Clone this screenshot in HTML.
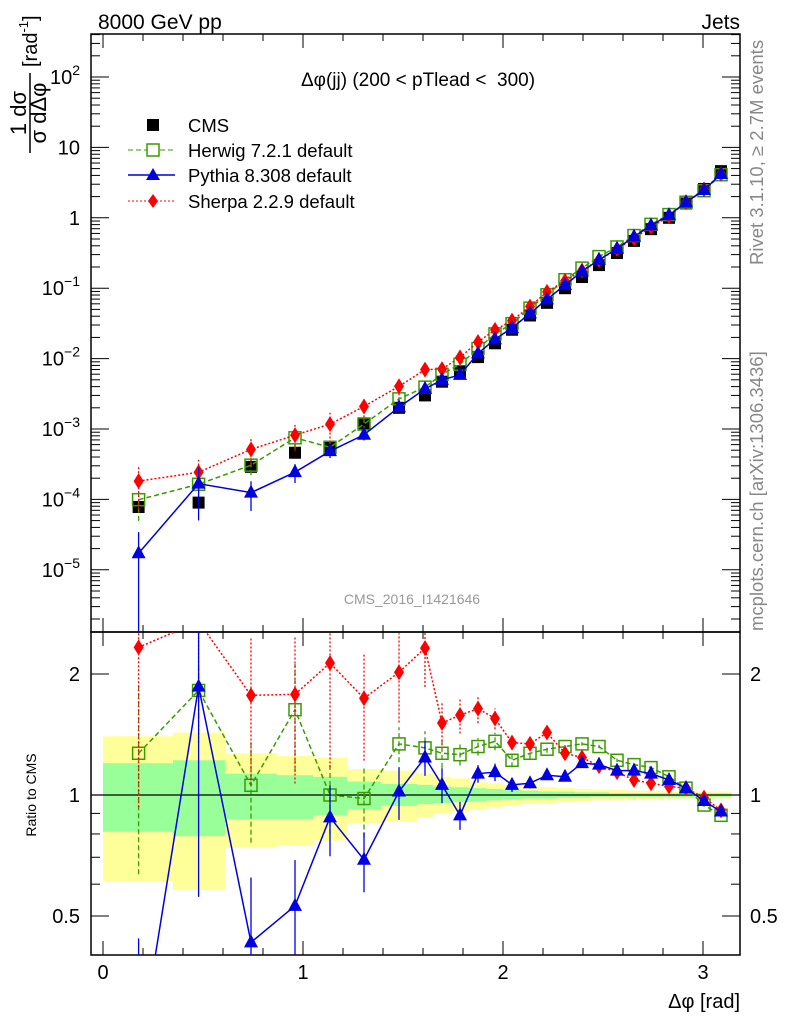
<!DOCTYPE html>
<html><head><meta charset="utf-8"><style>
html,body{margin:0;padding:0;background:#fff;width:786px;height:1024px;overflow:hidden}
svg{font-family:"Liberation Sans",sans-serif;display:block}
</style></head><body>
<svg id="c" width="786" height="1024" xmlns="http://www.w3.org/2000/svg">
<text x="98" y="29" font-size="21">8000 GeV pp</text>
<text x="740" y="29" font-size="21" text-anchor="end">Jets</text>
<text transform="translate(763,265) rotate(-90)" font-size="18.5" fill="#888">Rivet 3.1.10, ≥ 2.7M events</text>
<text transform="translate(763,631) rotate(-90)" font-size="18.5" fill="#888">mcplots.cern.ch [arXiv:1306.3436]</text>
<text x="418" y="86" font-size="19" text-anchor="middle" xml:space="preserve">Δφ(jj) (200 &lt; pTlead &lt;  300)</text>
<text x="412" y="604" font-size="14" fill="#999" text-anchor="middle">CMS_2016_I1421646</text>
<g transform="translate(30,113) rotate(-90)">
<text x="0" y="-4" font-size="22" text-anchor="middle">1 dσ</text>
<line x1="-40" y1="0" x2="40" y2="0" stroke="#000" stroke-width="1.5"/>
<text x="0" y="16" font-size="22" text-anchor="middle">σ dΔφ</text>
<text x="46" y="7" font-size="20">[rad<tspan font-size="13" dy="-9">-1</tspan><tspan dy="9">]</tspan></text>
</g>
<text transform="translate(36,795) rotate(-90)" font-size="14" text-anchor="middle">Ratio to CMS</text>
<text x="740" y="1008" font-size="20" text-anchor="end">Δφ [rad]</text>
<g id="legend" font-size="18.5">
<rect x="147" y="119" width="12" height="12" fill="#000"/>
<text x="188" y="132">CMS</text>
<line x1="128" y1="150" x2="175" y2="150" stroke="#3a9a00" stroke-dasharray="5,3"/>
<rect x="147" y="144" width="12" height="12" fill="#fff" stroke="#3a9a00" stroke-width="1.5"/>
<text x="188" y="157">Herwig 7.2.1 default</text>
<line x1="128" y1="175" x2="175" y2="175" stroke="#0000e0" stroke-width="1.5"/>
<polygon points="153,168 160,180 146,180" fill="#0000e0"/>
<text x="188" y="182">Pythia 8.308 default</text>
<line x1="128" y1="201" x2="175" y2="201" stroke="red" stroke-dasharray="2,2"/>
<polygon points="153,194 158,201 153,208 148,201" fill="red"/>
<text x="188" y="208">Sherpa 2.2.9 default</text>
</g>
</svg>
<script>
const xCenters=[0.178,0.478,0.74,0.96,1.135,1.305,1.48,1.61,1.695,1.785,1.875,1.96,2.045,2.135,2.22,2.31,2.395,2.48,2.57,2.655,2.74,2.83,2.915,3.005,3.09];
const binEdges=[0,0.35,0.61,0.87,1.05,1.22,1.39,1.57,1.65,1.74,1.83,1.92,2.0,2.09,2.18,2.27,2.36,2.44,2.53,2.62,2.71,2.79,2.88,2.97,3.05,3.14];
const cmsValues=[7.8e-5,9e-5,2.9e-4,4.6e-4,5.5e-4,1.2e-3,2.0e-3,3.0e-3,4.7e-3,6.6e-3,0.0105,0.0165,0.0257,0.041,0.062,0.1,0.144,0.213,0.316,0.47,0.69,1.0,1.6,2.57,4.6];
const herwigRatio=[1.27,1.82,1.057,1.63,1.0,0.98,1.34,1.31,1.27,1.26,1.32,1.36,1.22,1.27,1.30,1.32,1.34,1.32,1.22,1.19,1.17,1.11,1.04,0.944,0.89];
const herwigErr=[0.5,0.15,0.28,0.3,0.2,0.2,0.1,0.1,0.08,0.06,0.05,0.05,0.04,0.03,0.02,0.02,0.01,0.01,0.01,0.01,0.01,0.01,0.01,0.01,0.01];
const pythiaRatio=[0.22,1.86,0.43,0.53,0.88,0.69,1.02,1.24,1.06,0.89,1.13,1.14,1.06,1.07,1.12,1.11,1.20,1.19,1.15,1.15,1.13,1.09,1.04,0.966,0.91];
const pythiaErr=[1.0,0.7,0.45,0.3,0.2,0.17,0.15,0.1,0.1,0.08,0.05,0.05,0.04,0.03,0.02,0.02,0.01,0.01,0.01,0.01,0.01,0.01,0.01,0.01,0.01];
const sherpaRatio=[2.33,2.7,1.77,1.78,2.13,1.74,2.02,2.32,1.51,1.58,1.64,1.55,1.35,1.34,1.43,1.27,1.24,1.18,1.14,1.09,1.07,1.05,1.04,0.985,0.916];
const sherpaErr=[0.6,0.5,0.4,0.4,0.45,0.3,0.25,0.2,0.12,0.1,0.08,0.06,0.04,0.04,0.03,0.02,0.02,0.01,0.01,0.01,0.01,0.01,0.01,0.01,0.01];
const bandYellowUp=[1.40,1.43,1.27,1.25,1.24,1.16,1.15,1.13,1.11,1.10,1.08,1.07,1.06,1.05,1.045,1.04,1.035,1.03,1.03,1.025,1.025,1.02,1.02,1.02,1.02];
const bandYellowDn=[0.61,0.58,0.74,0.75,0.77,0.85,0.86,0.88,0.90,0.91,0.92,0.93,0.94,0.95,0.955,0.96,0.965,0.97,0.97,0.975,0.975,0.98,0.98,0.98,0.98];
const bandGreenUp=[1.20,1.22,1.13,1.12,1.11,1.08,1.065,1.06,1.05,1.045,1.04,1.035,1.03,1.025,1.02,1.02,1.015,1.015,1.01,1.01,1.01,1.01,1.01,1.01,1.01];
const bandGreenDn=[0.81,0.79,0.87,0.87,0.89,0.92,0.94,0.95,0.955,0.96,0.965,0.97,0.975,0.98,0.98,0.985,0.985,0.99,0.99,0.99,0.99,0.99,0.99,0.99,0.99];
const yTickExps=[2,1,0,-1,-2,-3,-4,-5];
const xTickLabels=["0","1","2","3"];
const rTickLabels=["0.5","1","2"];

const NS="http://www.w3.org/2000/svg",svg=document.getElementById('c');
const L=91,R=740,T=34,M=632,B=955;
const X=v=>103+200*v;
const Y=v=>77-70.4*(Math.log10(v)-2);
const YR=r=>795-121*Math.log2(r);
function mk(t,a,p){const e=document.createElementNS(NS,t);for(const k in a)e.setAttribute(k,a[k]);(p||svg).appendChild(e);return e;}
const clipM=mk('clipPath',{id:'cm'});mk('rect',{x:L,y:T,width:R-L,height:M-T},clipM);
const clipR=mk('clipPath',{id:'cr'});mk('rect',{x:L,y:M,width:R-L,height:B-M},clipR);
const gb=mk('g',{'clip-path':'url(#cr)'});


for(let i=0;i<xCenters.length;i++){
 const x0=X(binEdges[i]),x1=X(binEdges[i+1]);
 const y=mk('rect',{x:x0,y:YR(bandYellowUp[i]),width:x1-x0+0.5,height:YR(bandYellowDn[i])-YR(bandYellowUp[i]),fill:'#ffff99'},gb);
 
 
 const g=mk('rect',{x:x0,y:YR(bandGreenUp[i]),width:x1-x0+0.5,height:YR(bandGreenDn[i])-YR(bandGreenUp[i]),fill:'#99ff99'},gb);
 
 
}
const one=mk('line',{x1:L,x2:R,y1:YR(1),y2:YR(1),stroke:'#000','stroke-width':1.2});


function frame(y0,y1,name){const f=mk('rect',{x:L,y:y0,width:R-L,height:y1-y0,fill:'none',stroke:'#000','stroke-width':1.5});
 
 
 for(let v=0;v<=3.1;v+=0.2){const maj=Math.abs(v-Math.round(v))<1e-6,l=maj?14:7;
  mk('line',{x1:X(v),x2:X(v),y1:y1,y2:y1-l,stroke:'#000'});mk('line',{x1:X(v),x2:X(v),y1:y0,y2:y0+l,stroke:'#000'});}}
frame(T,M,'main-plot-frame');frame(M,B,'ratio-plot-frame');
for(let d=-6;d<=2;d++)for(let m=1;m<10;m++){const v=m*Math.pow(10,d),y=Y(v);if(y<T||y>M)continue;const l=m==1?18:9;
 mk('line',{x1:L,x2:L+l,y1:y,y2:y,stroke:'#000'});mk('line',{x1:R,x2:R-l,y1:y,y2:y,stroke:'#000'});}
yTickExps.forEach(e=>{const t=mk('text',{x:80,y:Y(Math.pow(10,e))+7,'font-size':20,'text-anchor':'end'});
 if(e==1)t.textContent='10';else if(e==0)t.textContent='1';
 else{const a=mk('tspan',{},t);a.textContent='10';const b=mk('tspan',{dy:-9,'font-size':14},t);b.textContent=e<0?'−'+(-e):String(e);}
 
 });
[0.4,0.5,0.6,0.7,0.8,0.9,1,2].forEach(r=>{const y=YR(r),l=(r==0.5||r==1||r==2)?18:9;
 mk('line',{x1:L,x2:L+l,y1:y,y2:y,stroke:'#000'});mk('line',{x1:R,x2:R-l,y1:y,y2:y,stroke:'#000'});});
rTickLabels.forEach(s=>{const y=YR(parseFloat(s))+7;
 const a=mk('text',{x:80,y:y,'font-size':20,'text-anchor':'end'});a.textContent=s;
 
 
 const b=mk('text',{x:750,y:y,'font-size':20});b.textContent=s;
 
 });
xTickLabels.forEach(s=>{const t=mk('text',{x:X(+s),y:979,'font-size':20,'text-anchor':'middle'});t.textContent=s;
 
 });
function marker(g,type,x,y,col){
 if(type=='sq')return mk('rect',{x:x-6,y:y-6,width:12,height:12,fill:'#000'},g);
 if(type=='osq')return mk('rect',{x:x-6,y:y-6,width:12,height:12,fill:'#fff','fill-opacity':0,stroke:col,'stroke-width':1.5},g);
 if(type=='tri')return mk('polygon',{points:`${x},${y-8} ${x+7},${y+5} ${x-7},${y+5}`,fill:col},g);
 return mk('polygon',{points:`${x},${y-8} ${x+5},${y} ${x},${y+8} ${x-5},${y}`,fill:col},g);}
function series(name,ratio,err,col,dash,type,sw){
 for(const panel of ['main','ratio']){
  const g=mk('g',{'clip-path':panel=='main'?'url(#cm)':'url(#cr)'});
  
  
  const val=i=>panel=='main'?cmsValues[i]*ratio[i]:ratio[i];
  const yf=panel=='main'?Y:YR;
  const pts=xCenters.map((x,i)=>X(x)+','+yf(val(i))).join(' ');
  mk('polyline',{points:pts,fill:'none',stroke:col,'stroke-width':sw,'stroke-dasharray':dash},g);
  xCenters.forEach((x,i)=>{const lo=Math.max(val(i)*(1-err[i]),1e-9),hi=val(i)*(1+err[i]);
   mk('line',{x1:X(x),x2:X(x),y1:yf(lo),y2:yf(hi),stroke:col,'stroke-width':1.3,'stroke-dasharray':dash},g);
   const m=marker(g,type,X(x),yf(val(i)),col);
   
   });
 }}
const gc=mk('g',{'clip-path':'url(#cm)'});


xCenters.forEach((x,i)=>{const m=marker(gc,'sq',X(x),Y(cmsValues[i]));
 
 });
series('herwig',herwigRatio,herwigErr,'#3a9a00','5,3','osq',1.5);
series('sherpa',sherpaRatio,sherpaErr,'red','2,2','dia',1.5);
series('pythia',pythiaRatio,pythiaErr,'#0000e0','','tri',1.5);
</script>
</body></html>
